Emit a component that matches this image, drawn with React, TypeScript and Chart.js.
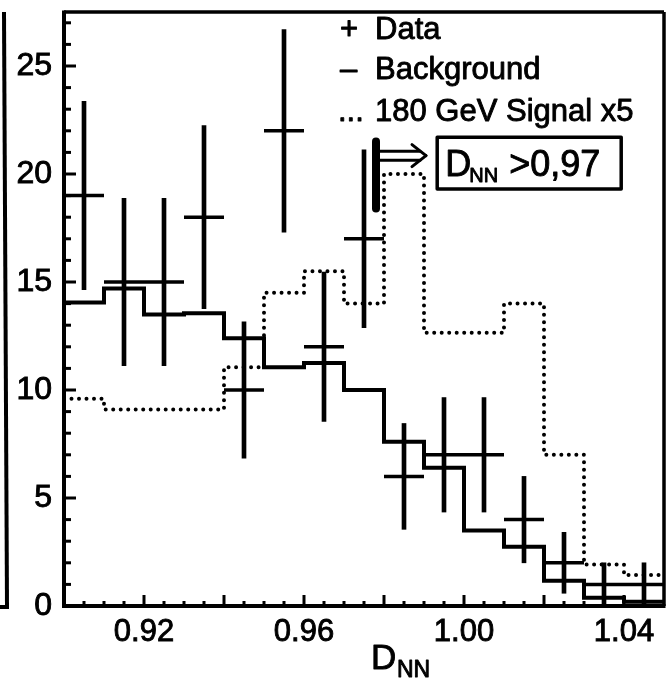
import React, { useEffect, useRef } from 'react';
import { Chart, registerables } from 'chart.js';

Chart.register(...registerables);

// ---- data ----
const binLeftEdges = [0.90, 0.91, 0.92, 0.93, 0.94, 0.95, 0.96, 0.97, 0.98, 0.99, 1.00, 1.01, 1.02, 1.03, 1.04];
const lastEdge = 1.05;
const background = [14.05, 14.7, 13.5, 13.55, 12.4, 11.05, 11.25, 10.0, 7.6, 6.4, 3.5, 2.74, 1.17, 0.38, 0.2];
const signalX5 = [9.6, 9.1, 9.1, 9.1, 11.05, 14.5, 15.5, 14.0, 20.0, 12.65, 12.65, 14.0, 7.0, 1.92, 1.43];
const dataCenters = [0.905, 0.915, 0.925, 0.935, 0.945, 0.955, 0.965, 0.975, 0.985, 0.995, 1.005, 1.015, 1.025, 1.035, 1.045];
const dataCounts = [19, 15, 15, 18, 10, 22, 12, 17, 6, 7, 7, 4, 2, 1, 1];
const dataLow = [14.64, 11.13, 11.13, 13.76, 6.84, 17.31, 8.54, 12.88, 3.55, 4.35, 4.35, 2.0, 0.59, 0.0, 0.0];
const dataHigh = [23.36, 18.87, 18.87, 22.24, 13.16, 26.69, 15.46, 21.12, 8.45, 9.65, 9.65, 6.0, 3.41, 2.0, 2.0];
const xTickLabels = [0.92, 0.96, 1.0, 1.04];
const yTickLabels = [0, 5, 10, 15, 20, 25];
const xRange = [0.9, 1.05];
const yRange = [0, 27.5];
const legendLabels = ['Data', 'Background', '180 GeV Signal x5'];
const cutLabel = '>0,97';
// hand-drawn cut annotation, in data coordinates
const cutMarkX = 0.978;
const cutMarkY = [18.4, 21.5];
const cutBoxX = [0.9933, 1.0393];
const cutBoxY = [19.3, 21.7];

const FONT = "'Liberation Sans', Arial, Helvetica, sans-serif";

const decorPlugin = {
  id: 'decor',
  afterDatasetsDraw(chart: any) {
    const { ctx, chartArea: a, scales } = chart;
    const x = scales.x;
    const y = scales.y;
    const line = (x1: number, y1: number, x2: number, y2: number) => {
      ctx.beginPath();
      ctx.moveTo(x1, y1);
      ctx.lineTo(x2, y2);
      ctx.stroke();
    };
    const text = (s: string, tx: number, ty: number) => {
      ctx.save();
      ctx.lineWidth = 0.9;
      ctx.lineJoin = 'round';
      ctx.fillText(s, tx, ty);
      ctx.strokeText(s, tx, ty);
      ctx.restore();
    };
    ctx.save();
    ctx.strokeStyle = '#000';
    ctx.fillStyle = '#000';
    ctx.lineCap = 'butt';

    // inward ticks on y axis
    ctx.lineWidth = 3;
    for (let v = 1; v <= 27; v++) {
      const py = y.getPixelForValue(v);
      const len = v % 5 === 0 ? 12 : 7;
      line(a.left, py, a.left + len, py);
    }
    // inward ticks on x axis
    for (let k = 1; k < 30; k++) {
      const v = xRange[0] + k * 0.005;
      const px = x.getPixelForValue(v);
      const len = k % 4 === 0 ? 11 : 5;
      line(px, a.bottom, px, a.bottom - len);
    }

    // frame
    ctx.lineWidth = 3.5;
    line(a.left, a.top, a.right, a.top);
    line(a.right, a.top, a.right, a.bottom);
    ctx.lineWidth = 4;
    line(a.left, a.top - 1.5, a.left, a.bottom + 2);
    line(a.left - 2, a.bottom, a.right + 1.5, a.bottom);

    // edge of the neighbouring panel on the left
    ctx.lineWidth = 4;
    line(4, a.top, 7, a.bottom);
    line(0, a.bottom + 1, 9, a.bottom + 1);

    // legend
    ctx.textBaseline = 'alphabetic';
    ctx.textAlign = 'left';
    ctx.font = `31px ${FONT}`;
    const lx = 375;
    const rows = [39, 79, 121];
    text('+', 340, rows[0]);
    text(legendLabels[0], lx, rows[0]);
    text('\u2013', 340, rows[1]);
    text(legendLabels[1], lx, rows[1]);
    text('...', 338, rows[2]);
    text(legendLabels[2], lx, rows[2]);

    // axis title D_NN
    ctx.font = `35px ${FONT}`;
    text('D', 371, 669);
    ctx.font = `23px ${FONT}`;
    text('NN', 397, 677);

    // hand-drawn cut annotation
    const mx = x.getPixelForValue(cutMarkX);
    ctx.lineWidth = 8;
    ctx.lineCap = 'round';
    line(mx, y.getPixelForValue(cutMarkY[1]), mx, y.getPixelForValue(cutMarkY[0]));
    // double arrow
    ctx.lineWidth = 3;
    const ay = y.getPixelForValue(20.85);
    line(mx + 4, ay - 4.5, mx + 44, ay - 4.5);
    line(mx + 4, ay + 4.5, mx + 44, ay + 4.5);
    line(mx + 36, ay - 11, mx + 50, ay);
    line(mx + 50, ay, mx + 36, ay + 11);
    // box
    const bx1 = x.getPixelForValue(cutBoxX[0]);
    const bx2 = x.getPixelForValue(cutBoxX[1]);
    const by1 = y.getPixelForValue(cutBoxY[1]);
    const by2 = y.getPixelForValue(cutBoxY[0]);
    ctx.lineWidth = 3.5;
    ctx.lineJoin = 'round';
    ctx.strokeRect(bx1, by1, bx2 - bx1, by2 - by1);
    ctx.font = `36px ${FONT}`;
    text('D', bx1 + 8, by1 + 39);
    ctx.font = `20px ${FONT}`;
    text('NN', bx1 + 32, by1 + 45);
    ctx.font = `36px ${FONT}`;
    text(cutLabel, bx1 + 72, by1 + 39);

    ctx.restore();
  },
};

export default function App() {
  const ref = useRef<HTMLCanvasElement | null>(null);

  useEffect(() => {
    if (!ref.current) return;
    const stepPoints = (vals: number[]) => [
      ...binLeftEdges.map((e, i) => ({ x: e, y: vals[i] })),
      { x: lastEdge, y: vals[vals.length - 1] },
    ];
    const halfBinPx = (c: any) => {
      const s = c.chart.scales && c.chart.scales.x;
      if (!s) return 20;
      return (s.getPixelForValue(0.01) - s.getPixelForValue(0)) / 2;
    };
    const chart = new Chart(ref.current, {
      type: 'line',
      data: {
        datasets: [
          {
            label: legendLabels[1],
            data: stepPoints(background),
            borderColor: '#000',
            borderWidth: 4,
            stepped: true,
            pointRadius: 0,
            fill: false,
            borderJoinStyle: 'miter',
          } as any,
          {
            label: legendLabels[2],
            data: stepPoints(signalX5),
            borderColor: '#000',
            borderWidth: 4,
            borderDash: [0, 7.5],
            borderCapStyle: 'round',
            stepped: true,
            pointRadius: 0,
            fill: false,
          } as any,
          {
            label: legendLabels[0],
            data: dataCenters.map((c, i) => ({ x: c, y: dataCounts[i] })),
            showLine: false,
            pointStyle: 'line',
            pointRadius: halfBinPx,
            pointBorderWidth: 3.5,
            pointBorderColor: '#000',
            pointBackgroundColor: '#000',
          } as any,
          {
            type: 'bar',
            label: legendLabels[0] + ' errors',
            data: dataCenters.map((c, i) => ({ x: c, y: [dataLow[i], dataHigh[i]] })),
            backgroundColor: '#000',
            borderWidth: 0,
            barThickness: 4,
          } as any,
        ],
      },
      options: {
        animation: false,
        responsive: false,
        devicePixelRatio: 1,
        events: [],
        layout: { padding: { top: 12, right: 6, left: 0, bottom: 0 }, autoPadding: false } as any,
        plugins: { legend: { display: false }, tooltip: { enabled: false } },
        scales: {
          x: {
            type: 'linear',
            min: xRange[0],
            max: xRange[1],
            offset: false,
            grid: { display: false, drawTicks: false, offset: false },
            border: { display: false },
            ticks: {
              color: '#000',
              font: { family: FONT, size: 31 },
              textStrokeColor: '#000',
              textStrokeWidth: 0.9,
              padding: 8,
              maxRotation: 0,
              autoSkip: false,
              callback: (v: any) => Number(v).toFixed(2),
            },
            afterBuildTicks: (s: any) => {
              s.ticks = xTickLabels.map((v) => ({ value: v }));
            },
            afterFit: (s: any) => {
              s.height = 79;
              s.paddingLeft = 0;
              s.paddingRight = 0;
            },
          },
          y: {
            type: 'linear',
            min: yRange[0],
            max: yRange[1],
            grid: { display: false, drawTicks: false },
            border: { display: false },
            ticks: {
              color: '#000',
              font: { family: FONT, size: 32 },
              textStrokeColor: '#000',
              textStrokeWidth: 0.9,
              padding: 12,
              autoSkip: false,
              callback: (v: any) => String(v),
            },
            afterBuildTicks: (s: any) => {
              s.ticks = yTickLabels.map((v) => ({ value: v }));
            },
            afterFit: (s: any) => {
              s.width = 64;
              s.paddingTop = 0;
              s.paddingBottom = 0;
            },
          },
        },
      } as any,
      plugins: [decorPlugin],
    });
    return () => chart.destroy();
  }, []);

  return (
    <div style={{ position: 'fixed', left: 0, top: 0, width: 670, height: 685, background: '#fff' }}>
      <canvas ref={ref} width={670} height={685} style={{ display: 'block' }} />
    </div>
  );
}
